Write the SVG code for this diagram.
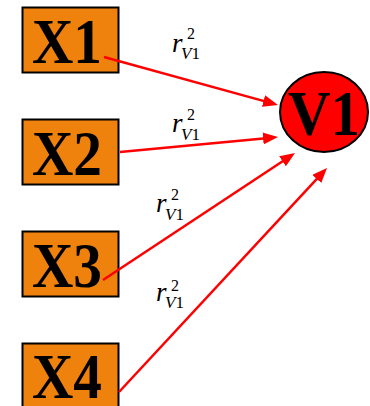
<svg xmlns="http://www.w3.org/2000/svg" width="370" height="406" viewBox="0 0 370 406">
<style>
.box{fill:#EF820C;stroke:#000;stroke-width:2}
.big{font-family:"Liberation Serif","Times New Roman",serif;font-weight:bold;font-size:63px;fill:#000}
.edge{stroke:#FF0000;stroke-width:2.5;fill:none;marker-end:url(#ah)}
.lbl{font-family:"Liberation Serif","Times New Roman",serif;fill:#000}
.r{font-style:italic;font-size:27px}
.sup{font-size:16px}
.sub{font-size:17px}
</style>
<defs>
<marker id="ah" markerUnits="userSpaceOnUse" viewBox="0 0 15 12" markerWidth="15" markerHeight="12" refX="11" refY="6" orient="auto">
<path d="M0,0 L15,6 L0,12 z" fill="#FF0000"/>
</marker>
</defs>
<rect width="370" height="406" fill="#fff"/>
<g id="labels">
<text class="lbl"><tspan class="r" x="172" y="52">r</tspan><tspan class="sup" x="187" y="39">2</tspan><tspan class="sub" x="181" y="59" font-style="italic">V</tspan><tspan class="sub">1</tspan></text>
<text class="lbl"><tspan class="r" x="172" y="132">r</tspan><tspan class="sup" x="187" y="120">2</tspan><tspan class="sub" x="181" y="140" font-style="italic">V</tspan><tspan class="sub">1</tspan></text>
<text class="lbl"><tspan class="r" x="156" y="212">r</tspan><tspan class="sup" x="171" y="200">2</tspan><tspan class="sub" x="165" y="220" font-style="italic">V</tspan><tspan class="sub">1</tspan></text>
<text class="lbl"><tspan class="r" x="156" y="301">r</tspan><tspan class="sup" x="171" y="291">2</tspan><tspan class="sub" x="165" y="308" font-style="italic">V</tspan><tspan class="sub">1</tspan></text>
</g>
<g id="X1"><rect class="box" x="22.5" y="7.5" width="96" height="65"/><text class="big" x="32" y="63" textLength="70" lengthAdjust="spacingAndGlyphs">X1</text></g>
<g id="X2"><rect class="box" x="22.5" y="119.5" width="96" height="65"/><text class="big" x="32" y="175" textLength="70" lengthAdjust="spacingAndGlyphs">X2</text></g>
<g id="X3"><rect class="box" x="22.5" y="231.5" width="96" height="65"/><text class="big" x="32" y="287" textLength="70" lengthAdjust="spacingAndGlyphs">X3</text></g>
<g id="X4"><rect class="box" x="22.5" y="343.5" width="96" height="65"/><text class="big" x="32" y="398" textLength="70" lengthAdjust="spacingAndGlyphs">X4</text></g>
<g id="V1"><ellipse cx="324" cy="112" rx="44" ry="40" fill="#FF0000" stroke="#000" stroke-width="2"/><text class="big" x="288" y="135" textLength="72" lengthAdjust="spacingAndGlyphs">V1</text></g>
<g id="edges">
<line class="edge" x1="104" y1="57" x2="274.1" y2="103.9"/>
<line class="edge" x1="120" y1="152" x2="274" y2="137.4"/>
<line class="edge" x1="103" y1="280" x2="291.7" y2="155.2"/>
<line class="edge" x1="119" y1="392" x2="324.3" y2="170.9"/>
</g>
</svg>
